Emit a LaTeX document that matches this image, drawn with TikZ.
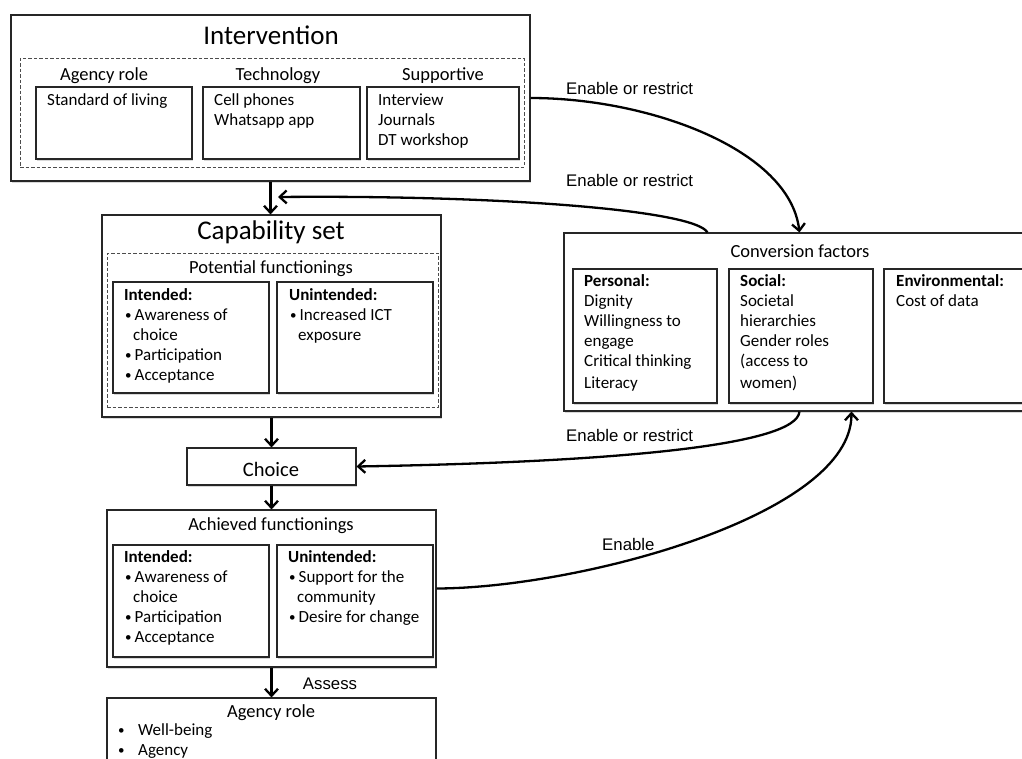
\documentclass[tikz,border=0pt]{standalone}
\usepackage{fontspec}
\setmainfont{Carlito}
\newfontfamily\arialfont{Liberation Sans}
\usetikzlibrary{fit, arrows.meta, shadows}
\newcommand{\bdot}{\raisebox{1pt}{\fontsize{13}{13}\selectfont\textbullet}}
\newcommand{\bitem}{\makebox[10.5pt][l]{\hspace{0.8pt}\bdot}}
\newcommand{\bcont}{\hspace*{9pt}}

\begin{document}
\begin{tikzpicture}[x=1pt, y=-1pt,
		box/.style={draw=black!85, line width=1.1pt, fill=white, inner sep=0pt,
			drop shadow={shadow xshift=1.2pt, shadow yshift=-1.5pt, fill=black!30}},
		dbox/.style={draw=black!70, line width=0.8pt, dash pattern=on 3.5pt off 2pt, inner sep=0pt},
		ttl/.style={font=\fontsize{27}{32}\selectfont, inner sep=0pt, anchor=base},
		hdr/.style={font=\fontsize{18.5}{22}\selectfont, inner sep=0pt, anchor=base},
		txt/.style={font=\fontsize{17}{20}\selectfont, inner sep=0pt, anchor=north west, align=left},
		lbl/.style={font=\arialfont\fontsize{16.8}{20}\selectfont, inner sep=0pt, anchor=base west},
		flow/.style={line width=2.3pt, -{Straight Barb[length=7pt, width=13pt]}}]
	\useasboundingbox (0,0) rectangle (1022,758);

	% intervention
	\node[box, fit={(11,15) (530,181)}] (interv) {};
	\node[ttl] (intertitle) at (271,44) {Intervention};
	\node[dbox, fit={(20,58) (524,167)}] (interdash) {};
	\foreach[count=\i] \hd/\xh/\xl/\xr/\items in {{Agency role}/104/36/192/{Standard of living},
			{Technology}/278/203/360/{Cell phones\\Whatsapp app},
			{Supportive}/443/367/519/{Interview\\Journals\\DT workshop}} {
		\node[hdr] (ih-\i) at (\xh,80) {\hd};
		\node[box, fit={(\xl,87) (\xr,159)}] (ib-\i) {};
		\node[txt] (it-\i) at (\xl+11,91) {\strut\items};
	}

	% capability set
	\node[box, fit={(102,215) (441,417)}] (capset) {};
	\node[ttl] (captitle) at (271,239) {Capability set};
	\node[dbox, fit={(107,253) (438,407)}] (capdash) {};
	\node[hdr] (pothead) at (271,273) {Potential functionings};
	\node[box, fit={(113,282) (269,393)}] (capint) {};
	\node[box, fit={(277,282) (433,393)}] (capun) {};
	\node[txt] (capinttxt) at (124,286) {\strut\textbf{Intended:}\\\bitem Awareness of\\\bcont choice\\\bitem Participation\\\bitem Acceptance};
	\node[txt] (capuntxt) at (289,286) {\strut\textbf{Unintended:}\\\bitem Increased ICT\\\bcont exposure};

	% choice
	\node[box, fit={(187,448) (356,485)}] (choice) {};
	\node[font=\fontsize{20.5}{24}\selectfont, inner sep=0pt, anchor=base] (choicetxt) at (271,476) {Choice};

	% achieved functionings
	\node[box, fit={(107,510) (436,667)}] (achieved) {};
	\node[hdr] (achhead) at (271,530) {Achieved functionings};
	\node[box, fit={(113,545) (269,657)}] (achint) {};
	\node[box, fit={(277,545) (433,657)}] (achun) {};
	\node[txt] (achinttxt) at (124,548) {\strut\textbf{Intended:}\\\bitem Awareness of\\\bcont choice\\\bitem Participation\\\bitem Acceptance};
	\node[txt] (achuntxt) at (288,548) {\strut\textbf{Unintended:}\\\bitem Support for the\\\bcont community\\\bitem Desire for change};

	% agency role
	\node[box, fit={(107,698) (436,790)}] (agency) {};
	\node[hdr] (aghead) at (271,717) {Agency role};
	\node[txt] (agtxt) at (118,721) {\strut\makebox[20pt][l]{\bdot}Well-being\\\makebox[20pt][l]{\bdot}Agency};

	% conversion factors
	\node[box, fit={(564,233) (1040,411)}] (conv) {};
	\node[hdr] (convhead) at (800,257) {Conversion factors};
	\node[box, fit={(573,269) (717,403)}] (pers) {};
	\node[box, fit={(729,269) (873,403)}] (soc) {};
	\node[box, fit={(884,269) (1040,403)}] (env) {};
	\node[txt] (perstxt) at (584,272) {\strut\textbf{Personal:}\\Dignity\\Willingness to\\engage\\Critical thinking\\[2pt]Literacy};
	\node[txt] (soctxt) at (740,272) {\strut\textbf{Social:}\\Societal\\hierarchies\\Gender roles\\(access to\\[2pt]women)};
	\node[txt] (envtxt) at (896,272) {\strut\textbf{Environmental:}\\Cost of data};

	% connectors
	\coordinate (join1) at (278,197);
	\draw[flow] (interv.south) -- (interv.south |- capset.north);
	\draw[flow] (capset.south) -- (choice.north);
	\draw[flow] (choice.south) -- (achieved.north);
	\draw[flow] (achieved.south) -- (agency.north);
	\node[lbl, anchor=base] (assess) at (330,689) {Assess};

	\draw[flow] (interv.east) .. controls (650,98) and (790,150) .. ([xshift=236pt]conv.north west);
	\node[lbl] (er1) at (566,94) {Enable or restrict};
	\draw[flow] ([xshift=144pt]conv.north west) .. controls (695,210) and (500,195) .. (join1);
	\node[lbl] (er2) at (566,186) {Enable or restrict};
	\draw[flow] ([xshift=236pt]conv.south west) .. controls (797,445) and (620,462) .. (choice.east);
	\node[lbl] (er3) at (566,441) {Enable or restrict};
	\draw[flow] (achieved.east) .. controls (580,588) and (852,515) .. ([xshift=288pt]conv.south west);
	\node[lbl] (en) at (602,550) {Enable};
\end{tikzpicture}
\end{document}
